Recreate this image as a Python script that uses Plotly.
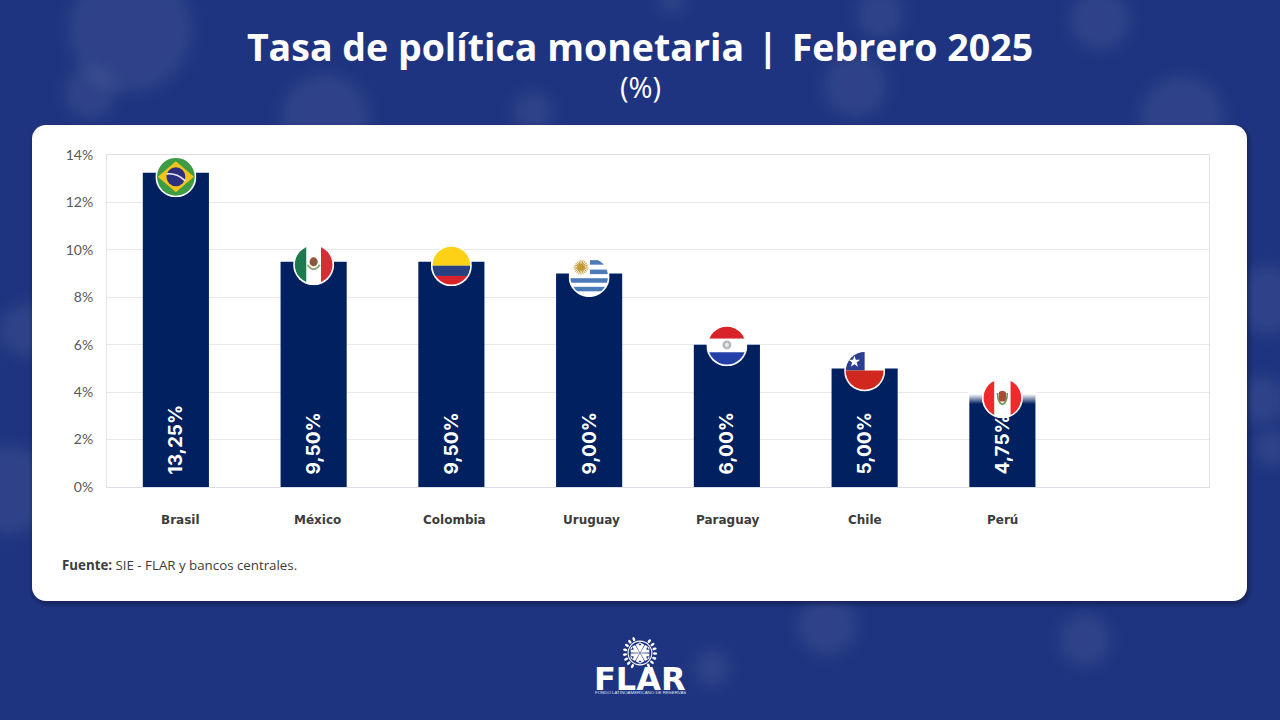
import base64
import math
import plotly.graph_objects as go

categories = ["Brasil", "México", "Colombia", "Uruguay", "Paraguay", "Chile", "Perú"]
rates = [13.25, 9.50, 9.50, 9.00, 6.00, 5.00, 4.75]
y_ticks = [0, 2, 4, 6, 8, 10, 12, 14]
y_tick_labels = ["0%", "2%", "4%", "6%", "8%", "10%", "12%", "14%"]
title_text = "Tasa de política monetaria \u200a|\u200a Febrero 2025"
unit_text = "(%)"
source_text = "<b>Fuente:</b> SIE - FLAR y bancos centrales."

W, H = 1280, 720
L, R, T, B = 107, 1209, 155, 487
UNIT_PX = (B - T) / 14
SLOT_PX = (R - L) / 8


def px(x):
    return (x - L) / (R - L)


def py(y):
    return (B - y) / (B - T)


def uri(svg):
    return "data:image/svg+xml;base64," + base64.b64encode(svg.encode()).decode()


def flag_svg(body):
    return uri(
        '<svg xmlns="http://www.w3.org/2000/svg" width="200" height="200" viewBox="0 0 100 100">'
        '<defs><clipPath id="c"><circle cx="50" cy="50" r="46"/></clipPath></defs>'
        '<circle cx="50" cy="50" r="50" fill="#fff"/>'
        f'<g clip-path="url(#c)">{body}</g></svg>'
    )


def sun_rays(cx, cy, r0, r1, n, colour):
    parts = []
    for k in range(n):
        a = 2 * math.pi * k / n
        parts.append(
            f'<line x1="{cx + r0 * math.cos(a):.1f}" y1="{cy + r0 * math.sin(a):.1f}" '
            f'x2="{cx + r1 * math.cos(a):.1f}" y2="{cy + r1 * math.sin(a):.1f}" '
            f'stroke="{colour}" stroke-width="2.4"/>'
        )
    return "".join(parts)


FLAGS = {
    "Brasil": '<rect width="100" height="100" fill="#3f9c45"/>'
              '<polygon points="50,12 94,50 50,88 6,50" fill="#f2c31b"/>'
              '<circle cx="50" cy="50" r="23" fill="#2c2e80"/>'
              '<path d="M28 43 Q52 40 73 60" stroke="#e8e8ee" stroke-width="4" fill="none"/>',
    "México": '<rect width="100" height="100" fill="#fff"/>'
              '<rect width="32" height="100" fill="#1d7a50"/>'
              '<rect x="68" width="32" height="100" fill="#d32f35"/>'
              '<ellipse cx="50" cy="43" rx="10" ry="11" fill="#8a5a3a"/>'
              '<path d="M35 50 Q50 72 65 50" stroke="#8fae7c" stroke-width="5" fill="none"/>',
    "Colombia": '<rect width="100" height="50" fill="#fcd116"/>'
                '<rect y="50" width="100" height="25" fill="#27407f"/>'
                '<rect y="75" width="100" height="25" fill="#d8232a"/>',
    "Uruguay": '<rect width="100" height="100" fill="#fff"/>'
               '<rect x="52" y="10" width="48" height="11" fill="#4c79b7"/>'
               '<rect x="52" y="33" width="48" height="11" fill="#4c79b7"/>'
               '<rect y="54" width="100" height="11" fill="#4c79b7"/>'
               '<rect y="75" width="100" height="11" fill="#4c79b7"/>'
               + sun_rays(30, 27, 8, 18, 20, "#c59a35")
               + '<circle cx="30" cy="27" r="9" fill="#c59a35"/>',
    "Paraguay": '<rect width="100" height="33" fill="#d8232a"/>'
                '<rect y="33" width="100" height="33" fill="#fff"/>'
                '<rect y="66" width="100" height="34" fill="#2340a8"/>'
                '<circle cx="50" cy="48" r="11" fill="#b4b9bd"/>'
                '<circle cx="50" cy="48" r="5" fill="#e7e7e7"/>',
    "Chile": '<rect width="100" height="100" fill="#fff"/>'
             '<rect width="50" height="49" fill="#2a3f8f"/>'
             '<rect y="49" width="100" height="51" fill="#d0281f"/>'
             '<polygon points="25,13 28.5,23 39,23 30.5,29.5 33.7,40 25,33.5 16.3,40 19.5,29.5 11,23 21.5,23" fill="#fff"/>',
    "Perú": '<rect width="100" height="100" fill="#fff"/>'
            '<rect width="30" height="100" fill="#ee2a2c"/>'
            '<rect x="70" width="30" height="100" fill="#ee2a2c"/>'
            '<rect x="41" y="33" width="18" height="26" rx="7" fill="#b04a35"/>'
            '<path d="M38 38 Q38 62 50 66 Q62 62 62 38" stroke="#6f9a58" stroke-width="4" fill="none"/>',
}

# how far each flag's centre sits below the top of its bar, in pixels
flag_drop_px = {"Brasil": 4, "México": 3, "Colombia": 4, "Uruguay": 3, "Paraguay": 1, "Chile": 2.5, "Perú": 23.5}
FLAG_D = 41

# decorative background: bokeh spots, card and its shadow
spots = [(130, 30, 62), (90, 93, 26), (325, 118, 44), (533, 112, 20), (672, 0, 14),
         (880, 15, 24), (855, 85, 32), (1100, 20, 30), (1182, 118, 42), (1268, 300, 34), (1262, 400, 24),
         (1272, 448, 18), (8, 490, 44), (25, 330, 26), (827, 625, 30), (712, 668, 18), (1085, 640, 26)]
spot_svg = "".join(f'<circle cx="{x}" cy="{y}" r="{r}" fill="#fff" fill-opacity="0.07"/>' for x, y, r in spots)
background = uri(
    f'<svg xmlns="http://www.w3.org/2000/svg" width="{W}" height="{H}" viewBox="0 0 {W} {H}">'
    '<defs><filter id="b" x="-20%" y="-20%" width="140%" height="140%"><feGaussianBlur stdDeviation="7"/></filter>'
    '<filter id="s" x="-5%" y="-5%" width="110%" height="110%"><feGaussianBlur stdDeviation="2.5"/></filter></defs>'
    f'<rect width="{W}" height="{H}" fill="#1f3480"/>'
    f'<g filter="url(#b)">{spot_svg}</g>'
    '<rect x="33" y="128" width="1216" height="476" rx="14" fill="#0c1a45" fill-opacity="0.75" filter="url(#s)"/>'
    '<rect x="32" y="125" width="1215" height="476" rx="14" fill="#fff"/>'
    '</svg>'
)

fade = uri(
    '<svg xmlns="http://www.w3.org/2000/svg" width="70" height="100" viewBox="0 0 70 100" preserveAspectRatio="none">'
    '<defs><linearGradient id="g" x1="0" y1="0" x2="0" y2="1">'
    '<stop offset="0" stop-color="#fff"/><stop offset="0.68" stop-color="#fff"/>'
    '<stop offset="1" stop-color="#fff" stop-opacity="0"/></linearGradient></defs>'
    '<rect width="70" height="100" fill="url(#g)"/></svg>'
)

petals = "".join(
    f'<g transform="rotate({a} 50 50)"><polygon points="50,49 38,27 50,20 62,27" fill="#fff"/>'
    f'<polygon points="50,30 45,24 55,24" fill="#1f3480"/></g>'
    for a in range(0, 360, 60)
)
leaves = "".join(
    f'<g transform="rotate({a} 50 50)"><ellipse cx="50" cy="8" rx="3.6" ry="6" fill="#fff"/></g>'
    for a in list(range(-150, -20, 18)) + list(range(38, 160, 18))
)
emblem = uri(
    '<svg xmlns="http://www.w3.org/2000/svg" width="200" height="200" viewBox="0 0 100 100">'
    f'<circle cx="50" cy="50" r="33" fill="none" stroke="#fff" stroke-width="3"/>{petals}{leaves}</svg>'
)

images = [
    dict(source=background, xref="paper", yref="paper", x=px(0), y=py(0), sizex=W / (R - L), sizey=H / (B - T),
         xanchor="left", yanchor="top", sizing="stretch", layer="below"),
    dict(source=emblem, xref="paper", yref="paper", x=px(640), y=py(653), sizex=36 / (R - L), sizey=36 / (B - T),
         xanchor="center", yanchor="middle", sizing="stretch", layer="above"),
    dict(source=fade, xref="x", yref="y", x=6, y=rates[6] + 0.06, sizex=0.5, sizey=rates[6] + 0.06 - 3.5,
         xanchor="center", yanchor="top", sizing="stretch", layer="above"),
]
for i, name in enumerate(categories):
    images.append(dict(source=flag_svg(FLAGS[name]), xref="x", yref="y", x=i,
                       y=rates[i] - flag_drop_px[name] / UNIT_PX,
                       sizex=FLAG_D / SLOT_PX, sizey=FLAG_D / UNIT_PX,
                       xanchor="center", yanchor="middle", sizing="stretch", layer="above"))

labels = ["\u2002" + f"{v:.2f}%".replace(".", ",") for v in rates]

fig = go.Figure(go.Bar(
    x=categories, y=rates, width=0.48, marker=dict(color="#00205f", line=dict(width=0)),
    text=labels, textposition="inside", insidetextanchor="start", textangle=-90, constraintext="none",
    textfont=dict(family="Inter", size=19, color="#fff", weight=700),
    hovertemplate="%{x}: %{y:.2f}%<extra></extra>",
))

annotations = []
for i, name in enumerate(categories):
    annotations.append(dict(x=i, y=0, xref="x", yref="y", text=f"<b>{name}</b>", showarrow=False,
                            xshift=max(0, 5 - i) * 1.0, yshift=-33, yanchor="middle",
                            font=dict(family="DejaVu Sans", size=12, color="#3c3c3c")))
annotations += [
    dict(x=px(640), y=py(87), xref="paper", yref="paper", text=unit_text, showarrow=False, yanchor="middle",
         font=dict(family="Open Sans", size=29, color="#fff")),
    dict(x=px(60), y=py(565), xref="paper", yref="paper", text=source_text, showarrow=False,
         xanchor="left", yanchor="middle", font=dict(family="Open Sans", size=13.3, color="#3c3c3c")),
    dict(x=px(640), y=py(679), xref="paper", yref="paper", text="<b>FLAR</b>", showarrow=False, yanchor="middle",
         font=dict(family="DejaVu Sans", size=32, color="#fff")),
    dict(x=px(640), y=py(692), xref="paper", yref="paper", text="FONDO LATINOAMERICANO DE RESERVAS", showarrow=False,
         yanchor="middle", font=dict(family="Liberation Sans", size=4.4, color="#dfe4f2")),
]

fig.update_layout(
    width=W, height=H, autosize=False,
    margin=dict(l=L, r=W - R, t=T, b=H - B, pad=0),
    paper_bgcolor="#1f3480", plot_bgcolor="rgba(0,0,0,0)",
    showlegend=False, bargap=0.52,
    title=dict(text=f"<b>{title_text}</b>", x=0.5, xanchor="center", xref="container",
               y=1 - 48 / H, yanchor="middle", yref="container",
               font=dict(family="Open Sans", size=37.5, color="#fff")),
    images=images, annotations=annotations,
    xaxis=dict(type="category", categoryorder="array", categoryarray=categories, range=[-0.5, 7.5],
               showticklabels=False, ticks="", showgrid=False, showline=True, linecolor="#dcdfe6",
               linewidth=1, mirror=True),
    yaxis=dict(range=[0, 14], tickmode="array", tickvals=y_ticks, ticktext=y_tick_labels, ticks="", showgrid=True,
               gridcolor="#e8e8ec", gridwidth=1, zeroline=False, showline=True, linecolor="#e4e4e8", linewidth=1,
               mirror=True, ticklabelstandoff=10, tickfont=dict(family="Lato", size=14, color="#595959")),
)

fig.write_html("out.html", config={"displayModeBar": False},
               post_script="document.body.style.margin='0';document.body.style.overflow='hidden';")
